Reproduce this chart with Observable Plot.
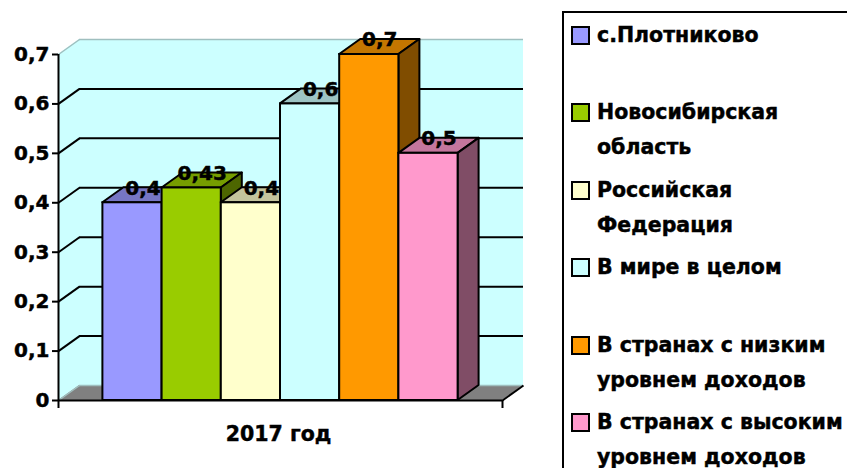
<!DOCTYPE html>
<html><head><meta charset="utf-8">
<script src="https://cdn.jsdelivr.net/npm/d3@7"></script>
<script src="https://cdn.jsdelivr.net/npm/@observablehq/plot@0.6"></script>
<style>
body{margin:0;background:#fff;}
#wrap{position:relative;width:847px;height:468px;overflow:hidden;font-family:"DejaVu Sans",sans-serif;font-weight:bold;color:#000;}
#chart{position:absolute;left:0;top:0;}
#chart svg text{stroke:#000;stroke-width:0.45px;paint-order:stroke;}
#legend{position:absolute;left:562px;top:11px;width:320px;height:490px;border:2px solid #000;box-sizing:border-box;}
.sw{position:absolute;width:15px;height:15px;border:2px solid #000;}
.lab{position:absolute;font-size:20.5px;line-height:34px;height:34px;white-space:nowrap;-webkit-text-stroke:0.45px #000;}
</style></head><body><div id="wrap"><div id="chart"></div><div id="legend"></div></div>
<script>
// ---- data ----
const series = ["с.Плотниково","Новосибирская область","Российская Федерация","В мире в целом","В странах с низким уровнем доходов","В странах с высоким уровнем доходов"];
const legendLines = [["с.Плотниково"],["Новосибирская","область"],["Российская","Федерация"],["В мире в целом"],["В странах с низким","уровнем доходов"],["В странах с высоким","уровнем доходов"]];
const values = [0.4, 0.43, 0.4, 0.6, 0.7, 0.5];
const valueLabels = ["0,4","0,43","0,4","0,6","0,7","0,5"];
const category = ["2017 год"];
const yTicks = [0, 0.1, 0.2, 0.3, 0.4, 0.5, 0.6, 0.7];
// ---- style ----
const colors = ["#9999FF","#99CC00","#FFFFCC","#CCFFFF","#FF9900","#FF99CC"];
const shade = (c, k) => { const r = d3.rgb(c); return d3.rgb(r.r*k, r.g*k, r.b*k).formatHex(); };

const W = 530, H = 468, mL = 58, mR = 28, mT = 54, mB = 68;
const yMax = 0.7, gap = 0.75, xMax = values.length + 2*gap;
const pxX = (W - mL - mR) / xMax, pxY = (H - mT - mB) / yMax;
const dxu = 21 / pxX, dyu = 15 / pxY;
const wallFill = "#CCFFFF", edge = "#9fbfbf";

const marks = [];
// side wall
marks.push(Plot.areaY([{x:0,y1:0,y2:yMax},{x:dxu,y1:dyu,y2:yMax+dyu}], {x:"x",y1:"y1",y2:"y2",fill:wallFill}));
// back wall
marks.push(Plot.rect([0], {x1:dxu, x2:xMax+dxu, y1:dyu, y2:yMax+dyu, fill:wallFill}));
// floor
marks.push(Plot.areaY([{x:0,y1:0,y2:0},{x:dxu,y1:0,y2:dyu},{x:xMax,y1:0,y2:dyu},{x:xMax+dxu,y1:dyu,y2:dyu}], {x:"x",y1:"y1",y2:"y2",fill:"#808080"}));
// gridlines
const inner = yTicks.filter(t => t > 0 && t < yMax);
marks.push(Plot.ruleY(inner, {y: t => t + dyu, x1: dxu, x2: xMax + dxu, stroke:"#000", strokeWidth:2}));
marks.push(Plot.link(inner, {x1: 0, y1: t => t, x2: dxu, y2: t => t + dyu, stroke:"#000", strokeWidth:2}));
// light wall edges
marks.push(Plot.link([0, yMax], {x1: 0, y1: t => t, x2: dxu, y2: t => t + dyu, stroke: edge, strokeWidth:1.5}));
marks.push(Plot.ruleY([yMax, 0], {y: t => t + dyu, x1: dxu, x2: xMax + dxu, stroke: edge, strokeWidth:1.5}));
// bars
values.forEach((v, i) => {
  const x0 = gap + i, x1 = x0 + 1, c = colors[i];
  marks.push(Plot.areaY([{x:x0,y1:v,y2:v},{x:x0+dxu,y1:v,y2:v+dyu},{x:x1,y1:v,y2:v+dyu},{x:x1+dxu,y1:v+dyu,y2:v+dyu}],
    {x:"x",y1:"y1",y2:"y2",fill:shade(c,0.77),stroke:"#000",strokeWidth:2,strokeLinejoin:"round"}));
  marks.push(Plot.areaY([{x:x1,y1:0,y2:v},{x:x1+dxu,y1:dyu,y2:v+dyu}],
    {x:"x",y1:"y1",y2:"y2",fill:shade(c,0.5),stroke:"#000",strokeWidth:2,strokeLinejoin:"round"}));
  marks.push(Plot.rect([v], {x1:x0, x2:x1, y1:0, y2:d => d, fill:c, stroke:"#000", strokeWidth:2}));
});
// axes lines
marks.push(Plot.ruleX([0], {y1:0, y2:yMax, stroke:"#000", strokeWidth:2}));
marks.push(Plot.ruleY([0], {x1:0, x2:xMax, stroke:"#000", strokeWidth:2}));
marks.push(Plot.link([0], {x1:xMax, y1:0, x2:xMax+dxu, y2:dyu, stroke:"#000", strokeWidth:2}));
marks.push(Plot.ruleX([0, xMax], {y1:0, y2:-8/pxY, stroke:"#000", strokeWidth:2}));
marks.push(Plot.axisY(yTicks, {tickSize:6, tickPadding:3, strokeWidth:2, fontSize:20, fontWeight:"bold",
  tickFormat: d => String(d).replace(".", ",")}));
// value labels
marks.push(Plot.text(values, {x: (d,i) => gap + i + 0.5 + dxu/2, y: d => d + dyu/2, text: (d,i) => valueLabels[i],
  dy: -7, fontSize:20, fontWeight:"bold", fill:"#000"}));
// category label
marks.push(Plot.text(category, {x: xMax/2, y: 0, dy: 34, dx: -2, fontSize:20.5, fontWeight:"bold", fill:"#000"}));

const chart = Plot.plot({
  width: W, height: H, marginLeft: mL, marginRight: mR, marginTop: mT, marginBottom: mB,
  x: {domain:[0, xMax], axis:null},
  y: {domain:[0, yMax], axis:null},
  style: {fontFamily:"DejaVu Sans, sans-serif", fontWeight:"bold", background:"#fff", color:"#000", overflow:"visible"},
  marks
});
document.getElementById("chart").appendChild(chart);

// legend
const wrap = document.getElementById("wrap");
legendLines.forEach((lines, i) => {
  const c = 35 + i * 77.4;
  const sw = document.createElement("div");
  sw.className = "sw"; sw.style.left = "571px"; sw.style.top = (c - 9) + "px"; sw.style.background = colors[i];
  sw.title = series[i];
  wrap.appendChild(sw);
  lines.forEach((t, k) => {
    const l = document.createElement("div");
    l.className = "lab"; l.textContent = t; l.style.left = "597px"; l.style.top = (c - 17 + k * 35) + "px";
    wrap.appendChild(l);
  });
});
</script></body></html>
